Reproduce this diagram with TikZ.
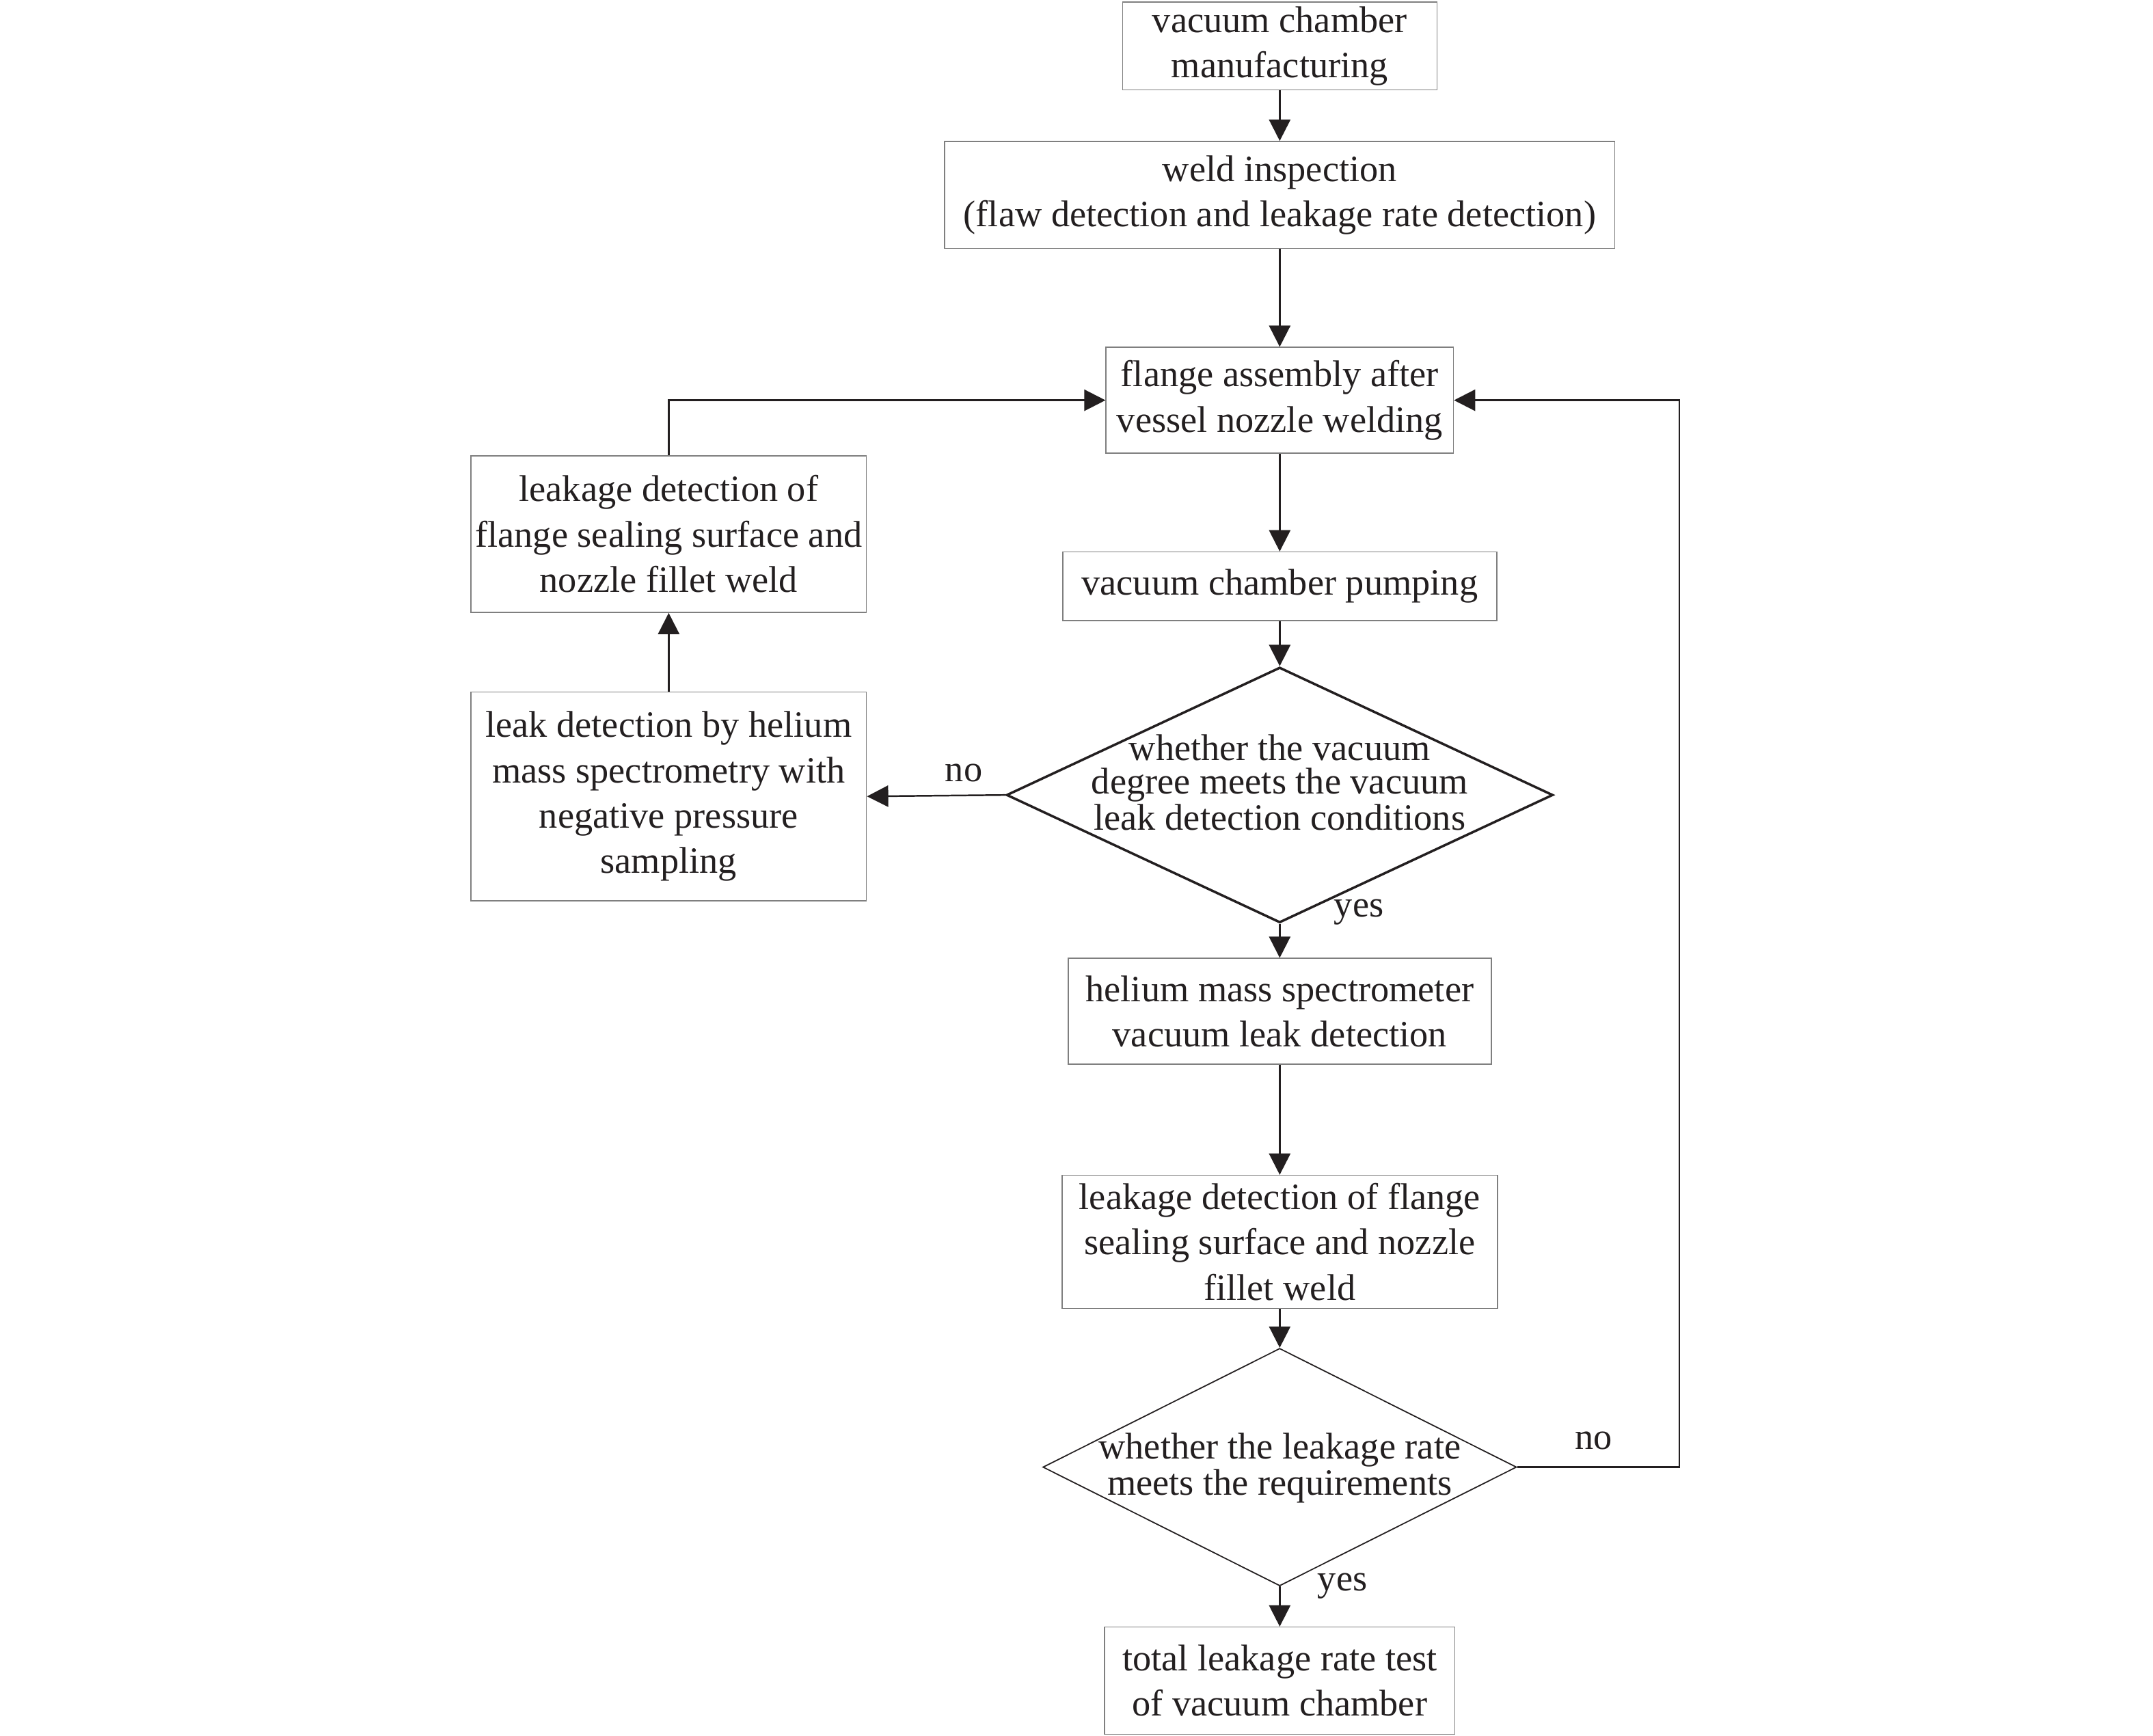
\documentclass[tikz,border=0pt]{standalone}
\usepackage{fontspec}
\setmainfont{Liberation Serif}
\usepackage{tikz}
\usetikzlibrary{shapes.geometric,arrows.meta}
\definecolor{ink}{HTML}{231F20}
\definecolor{boxgray}{HTML}{7F7F7F}

\begin{document}
\begin{tikzpicture}[>={Triangle[length=0.31cm,width=0.31cm]},ink,
    every node/.style={font=\fontsize{15.4}{18.8}\selectfont,align=center,inner sep=0pt},
    stepbox/.style={draw=boxgray,line width=0.45pt},
    decision/.style={diamond,draw=ink,inner sep=0pt},
    dectext/.style={font=\fontsize{15.4}{13.8}\selectfont},
    flow/.style={->,line width=0.7pt},
    lbl/.style={inner sep=0pt}]
    \useasboundingbox (0,0) rectangle (31.36,-25.28);
    \node [stepbox,minimum width=4.58cm,minimum height=1.28cm] (A) at (18.64,-0.67) {vacuum chamber\\manufacturing};
    \node [stepbox,minimum width=9.76cm,minimum height=1.56cm] (B) at (18.64,-2.84) {weld inspection\\(flaw detection and leakage rate detection)};
    \node [stepbox,minimum width=5.06cm,minimum height=1.54cm] (C) at (18.64,-5.83) {flange assembly after\\vessel nozzle welding};
    \node [stepbox,minimum width=6.32cm,minimum height=1.0cm] (D) at (18.64,-8.54) {vacuum chamber pumping};
    \node [decision,line width=1pt,minimum width=7.96cm,minimum height=3.72cm] (E) at (18.64,-11.58) {};
    \node [dectext] (Et) at (18.64,-11.4) {whether the vacuum\\degree meets the vacuum\\leak detection conditions};
    \node [stepbox,minimum width=6.16cm,minimum height=1.54cm] (F) at (18.64,-14.73) {helium mass spectrometer\\vacuum leak detection};
    \node [stepbox,minimum width=6.34cm,minimum height=1.94cm] (G) at (18.64,-18.09) {leakage detection of flange\\sealing surface and nozzle\\fillet weld};
    \node [decision,line width=0.5pt,minimum width=6.9cm,minimum height=3.46cm] (H) at (18.64,-21.37) {};
    \node [dectext] (Ht) at (18.64,-21.38) {whether the leakage rate\\meets the requirements};
    \node [stepbox,minimum width=5.1cm,minimum height=1.56cm] (I) at (18.64,-24.48) {total leakage rate test\\of vacuum chamber};
    \node [stepbox,minimum width=5.76cm,minimum height=3.04cm] (J) at (9.74,-11.6) {leak detection by helium\\mass spectrometry with\\negative pressure\\sampling};
    \node [stepbox,minimum width=5.76cm,minimum height=2.28cm] (K) at (9.74,-7.78) {leakage detection of\\flange sealing surface and\\nozzle fillet weld};
    \draw [flow] (A) to (B);
    \draw [flow] (B) to (C);
    \draw [flow] (C) to (D);
    \draw [flow] (D) to (E);
    \draw [flow] (E.south) to node [lbl,pos=0,anchor=base west,xshift=0.78cm,yshift=0.1cm] {yes} (F.north);
    \draw [flow] (F) to (G);
    \draw [flow] (G) to (H);
    \draw [flow] (H.south) to node [lbl,pos=0,anchor=base west,xshift=0.54cm,yshift=-0.06cm] {yes} (I.north);
    \draw [flow] (E.west) to node [lbl,pos=0.3,anchor=base,yshift=0.2cm] {no} (J.east);
    \draw [flow] (J) to (K);
    \draw [flow] (K.north) |- (C.west);
    \draw [flow] (H.east) -- ++(2.36,0) node [lbl,pos=0.47,anchor=base,yshift=0.26cm] {no} |- (C.east);
\end{tikzpicture}
\end{document}
